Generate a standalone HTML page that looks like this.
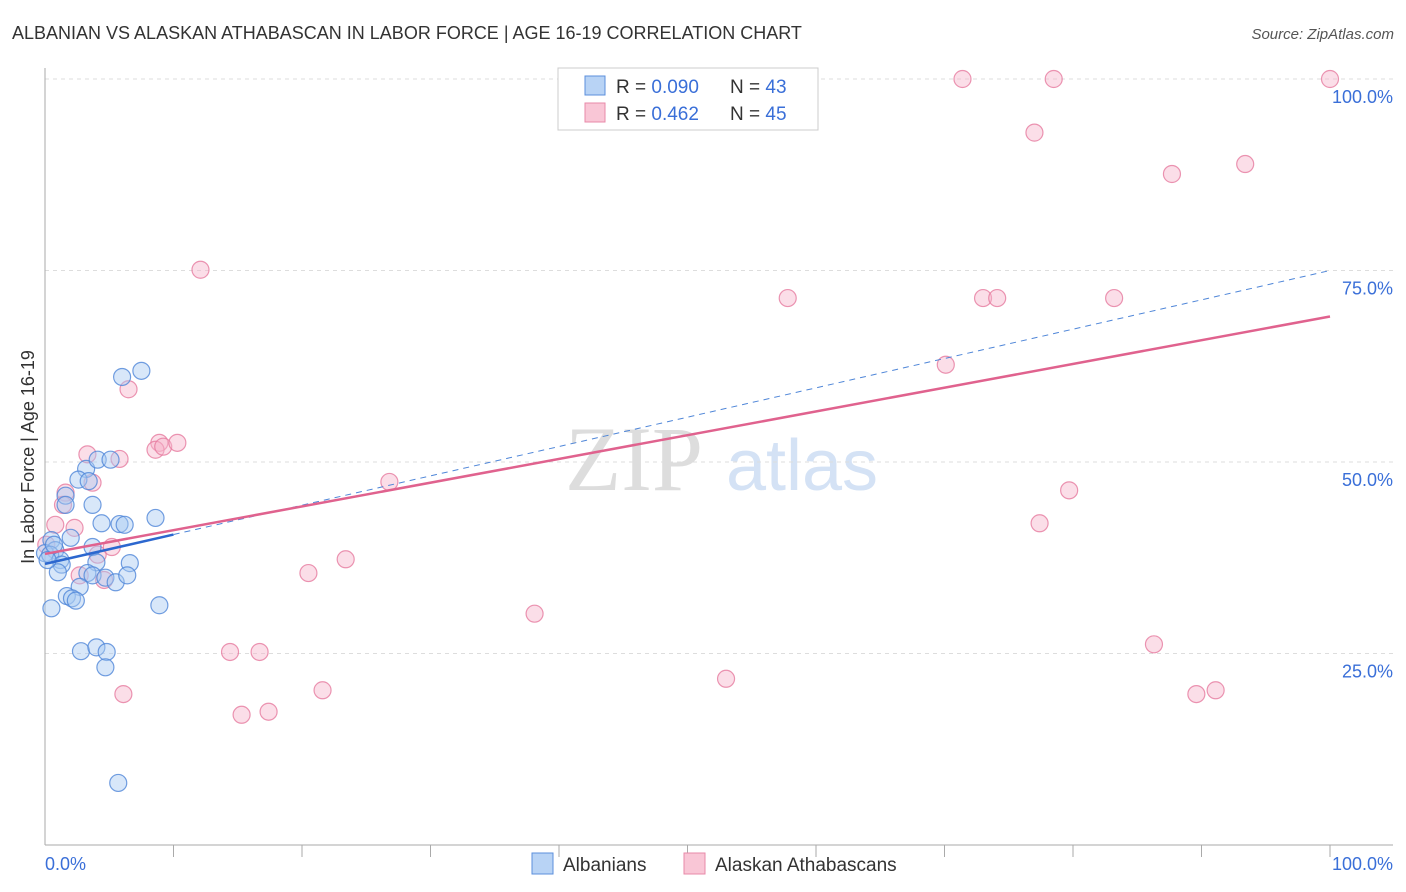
<!DOCTYPE html>
<html><head><meta charset="utf-8"><style>
body{margin:0;background:#fff;font-family:"Liberation Sans",sans-serif;}
svg{display:block}
</style></head><body>
<svg id="chart" width="1406" height="892" viewBox="0 0 1406 892" xmlns="http://www.w3.org/2000/svg">
<text x="12" y="39" font-size="18" fill="#333">ALBANIAN VS ALASKAN ATHABASCAN IN LABOR FORCE | AGE 16-19 CORRELATION CHART</text>
<text x="1394" y="39" font-size="15" fill="#555" font-style="italic" text-anchor="end">Source: ZipAtlas.com</text>
<g>
<text x="634" y="490" font-size="92" fill="#ddd" text-anchor="middle" font-family="Liberation Serif,serif">ZIP</text>
<text x="802" y="490" font-size="72" fill="#d4e2f5" text-anchor="middle">atlas</text>
</g>
<g id="grid"></g>
<g id="axes"></g>
<g id="marks"></g>
<text transform="translate(34,457) rotate(-90)" font-size="18" fill="#333" text-anchor="middle">In Labor Force | Age 16-19</text>
<text x="45" y="870" font-size="18" fill="#3a6fd8">0.0%</text>
<text x="1393" y="870" font-size="18" fill="#3a6fd8" text-anchor="end">100.0%</text>
<g>
<rect x="558" y="68" width="260" height="62" fill="#fff" stroke="#ccc"/>
<rect x="585" y="76" width="20" height="19" fill="#b8d3f5" stroke="#5b8fdc"/>
<rect x="585" y="103" width="20" height="19" fill="#f9c6d6" stroke="#e889a8"/>
<text x="616" y="93" font-size="19" fill="#333">R = <tspan fill="#3a6fd8">0.090</tspan><tspan x="730">N = </tspan><tspan fill="#3a6fd8">43</tspan></text>
<text x="616" y="120" font-size="19" fill="#333">R = <tspan fill="#3a6fd8"> 0.462</tspan><tspan x="730">N = </tspan><tspan fill="#3a6fd8">45</tspan></text>
</g>
<g>
<rect x="532" y="853" width="21" height="21" fill="#b8d3f5" stroke="#5b8fdc"/>
<text x="563" y="871" font-size="19" fill="#333">Albanians</text>
<rect x="684" y="853" width="21" height="21" fill="#f9c6d6" stroke="#e889a8"/>
<text x="715" y="871" font-size="19" fill="#333">Alaskan Athabascans</text>
</g>
</svg>
<script>
const yTicks=[25,50,75,100];
const yTickLabels=["25.0%","50.0%","75.0%","100.0%"];
const xTicks=[10,20,30,40,50,60,70,80,90,100];
const blueX=[6.0,7.5,3.2,2.6,3.4,4.1,5.1,1.6,1.6,3.7,8.6,4.4,5.8,6.2,2.0,0.5,3.7,0.8,0,0.4,1.2,1.3,4.0,6.6,1.0,3.3,3.7,4.7,5.5,6.4,2.7,1.7,2.1,2.4,0.5,8.9,2.8,4.0,4.8,4.7,5.7,0.2,0.7];
const blueY=[61.1,61.9,49.1,47.7,47.5,50.3,50.3,45.6,44.4,44.4,42.7,42.0,41.9,41.8,40.1,39.8,38.9,38.5,38.1,37.9,37.2,36.6,36.9,36.8,35.6,35.5,35.2,34.9,34.3,35.2,33.7,32.5,32.2,31.9,30.9,31.3,25.3,25.8,25.2,23.2,8.1,37.2,39.2];
const pinkX=[12.1,71.4,78.5,100,77.0,87.7,93.4,57.8,73.0,74.1,83.2,70.1,6.5,8.9,8.6,9.2,10.3,3.3,5.8,3.7,1.6,1.4,26.8,79.7,77.4,0.8,2.3,4.1,5.2,23.4,20.5,2.7,4.6,38.1,14.4,16.7,86.3,6.1,21.6,53.0,89.6,91.1,15.3,17.4,0.1];
const pinkY=[75.1,100,100,100,93.0,87.6,88.9,71.4,71.4,71.4,71.4,62.7,59.5,52.5,51.6,52.0,52.5,51.0,50.4,47.3,46.0,44.4,47.4,46.3,42.0,41.8,41.4,37.9,38.9,37.3,35.5,35.2,34.6,30.2,25.2,25.2,26.2,19.7,20.2,21.7,19.7,20.2,17.0,17.4,39.2];
const blueTrend=[36.7,75.0];
const blueSolidEnd=10;
const pinkTrend=[38.0,69.0];

const X0=45,X1=1330,Y0=845,Y100=79;
const sx=v=>X0+(X1-X0)*v/100;
const sy=v=>Y0-(Y0-Y100)*v/100;
const NS="http://www.w3.org/2000/svg";
function mk(tag,attrs,parent){const e=document.createElementNS(NS,tag);for(const k in attrs)e.setAttribute(k,attrs[k]);parent.appendChild(e);return e;}
const grid=document.getElementById('grid'),axes=document.getElementById('axes'),marks=document.getElementById('marks');
yTicks.forEach((t,i)=>{
  const l=mk('line',{x1:X0,x2:1393,y1:sy(t),y2:sy(t),stroke:'#ddd','stroke-dasharray':'4,4'},grid);
  
  
  const tx=mk('text',{x:1393,y:sy(t)+24,'font-size':18,fill:'#3a6fd8','text-anchor':'end'},grid);
  tx.textContent=yTickLabels[i];
  
  
});
const ya=mk('line',{x1:X0,x2:X0,y1:68,y2:Y0,stroke:'#aaa'},axes);


const xa=mk('line',{x1:X0,x2:1393,y1:Y0,y2:Y0,stroke:'#aaa'},axes);


xTicks.forEach(t=>{
  const l=mk('line',{x1:sx(t),x2:sx(t),y1:Y0,y2:Y0+12,stroke:'#aaa'},axes);
  
  
});
function dots(xs,ys,fill,stroke,name){
  xs.forEach((x,i)=>{
    const c=mk('circle',{cx:sx(x),cy:sy(ys[i]),r:8.5,fill:fill,'fill-opacity':0.45,stroke:stroke,'stroke-width':1.2,'stroke-opacity':0.8},marks);
    
    
  });
}
dots(pinkX,pinkY,'#f7b6cb','#e67a9f','athabascan-point');
dots(blueX,blueY,'#a9c9f2','#4f86d8','albanian-point');
const ty=(tr,x)=>tr[0]+(tr[1]-tr[0])*x/100;
const bd=mk('line',{x1:sx(0),y1:sy(blueTrend[0]),x2:sx(100),y2:sy(blueTrend[1]),stroke:'#4f86d8','stroke-width':1,'stroke-dasharray':'6,5'},marks);


const pt=mk('line',{x1:sx(0),y1:sy(pinkTrend[0]),x2:sx(100),y2:sy(pinkTrend[1]),stroke:'#e0628e','stroke-width':2.5},marks);


const bs=mk('line',{x1:sx(0),y1:sy(blueTrend[0]),x2:sx(blueSolidEnd),y2:sy(ty(blueTrend,blueSolidEnd)),stroke:'#2c67cf','stroke-width':2.5},marks);


</script>
</body></html>
